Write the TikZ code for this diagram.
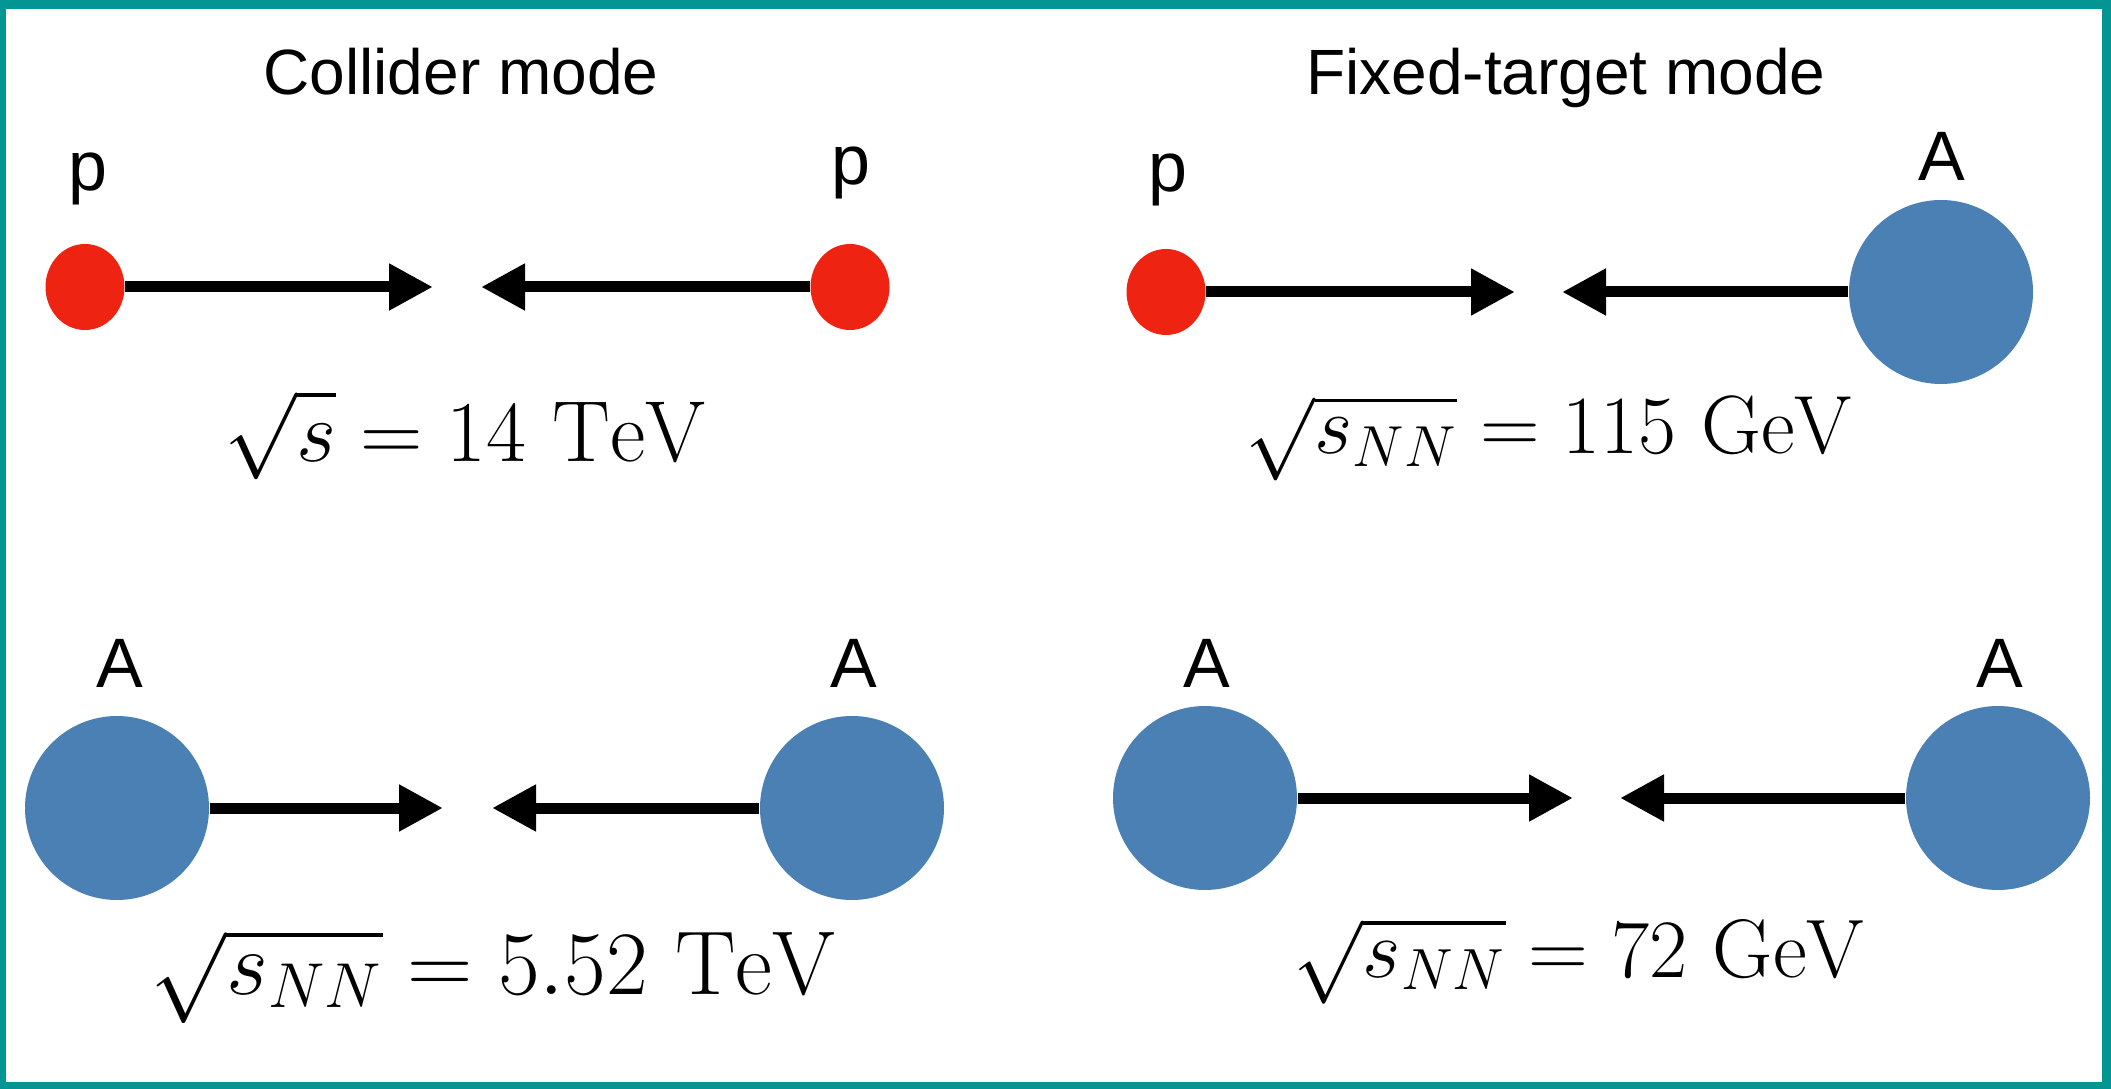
\RequirePackage{fix-cm}
\documentclass[tikz,border=0pt]{standalone}
\usepackage{fontspec}
\newfontfamily\hv{Liberation Sans}
\usetikzlibrary{shapes.geometric,arrows.meta}
\definecolor{frame}{HTML}{039494}
\definecolor{pred}{HTML}{EE2311}
\definecolor{nblue}{HTML}{4A80B4}
\tikzset{
  proton/.style={ellipse,fill=pred,inner sep=0pt,minimum width=23.7pt,minimum height=25.8pt},
  nucleus/.style={circle,fill=nblue,inner sep=0pt,minimum size=55.2pt},
  beam/.style={line width=3.3pt,-{Triangle[length=13.2pt,width=13.2pt]}},
  head/.style={font=\hv\fontsize{19.2}{23}\selectfont,anchor=base,inner sep=0pt},
  lab/.style={font=\hv\fontsize{21}{25}\selectfont,anchor=base,inner sep=0pt},
  formula/.style={anchor=base,inner sep=0pt}
}
\begin{document}
\begin{tikzpicture}[x=0.3pt,y=-0.3pt]
\useasboundingbox (0,0) rectangle (2111,1089);
\fill[frame] (0,0) rectangle (2111,1089);
\fill[white] (6,9) rectangle (2102,1082);
% headings
\node[head] (h1) at (461,95) {Collider mode};
\node[head] (h2) at (1566,95) {Fixed-target mode};
% row 1, collider
\node[proton] (pL) at (85,287) {};
\node[proton] (pR) at (850,287) {};
\coordinate (t1) at (433,287);
\coordinate (t2) at (481,287);
\draw[beam] (pL.east) -- (t1);
\draw[beam] (pR.west) -- (t2);
\node[lab] (lpL) at (88,191) {p};
\node[lab] (lpR) at (851,185) {p};
\node[formula,font=\fontsize{26}{30}\selectfont] (f1) at (465,462) {$\sqrt{s\rule{0pt}{.53em}} = 14\ \mathrm{TeV}$};
% row 1, fixed target
\node[proton] (pF) at (1166,292) {};
\node[nucleus] (AF) at (1941,292) {};
\coordinate (t3) at (1515,292);
\coordinate (t4) at (1562,292);
\draw[beam] (pF.east) -- (t3);
\draw[beam] (AF.west) -- (t4);
\node[lab] (lpF) at (1168,192) {p};
\node[lab] (lAF) at (1942,181) {A};
\node[formula,font=\fontsize{24.8}{30}\selectfont] (f2) at (1549,454) {$\sqrt{s_{NN}} = 115\ \mathrm{GeV}$};
% row 2, collider
\node[nucleus] (A1) at (117,808) {};
\node[nucleus] (A2) at (852,808) {};
\coordinate (t5) at (443,808);
\coordinate (t6) at (492,808);
\draw[beam] (A1.east) -- (t5);
\draw[beam] (A2.west) -- (t6);
\node[lab] (lA1) at (120,687) {A};
\node[lab] (lA2) at (854,687) {A};
\node[formula,font=\fontsize{27.2}{32}\selectfont] (f3) at (493,994) {$\sqrt{s_{NN}} = 5.52\ \mathrm{TeV}$};
% row 2, fixed target
\node[nucleus] (A3) at (1205,798) {};
\node[nucleus] (A4) at (1998,798) {};
\coordinate (t7) at (1573,798);
\coordinate (t8) at (1620,798);
\draw[beam] (A3.east) -- (t7);
\draw[beam] (A4.west) -- (t8);
\node[lab] (lA3) at (1207,687) {A};
\node[lab] (lA4) at (2000,687) {A};
\node[formula,font=\fontsize{24.9}{30}\selectfont] (f4) at (1579,977) {$\sqrt{s_{NN}} = 72\ \mathrm{GeV}$};
\end{tikzpicture}
\end{document}
